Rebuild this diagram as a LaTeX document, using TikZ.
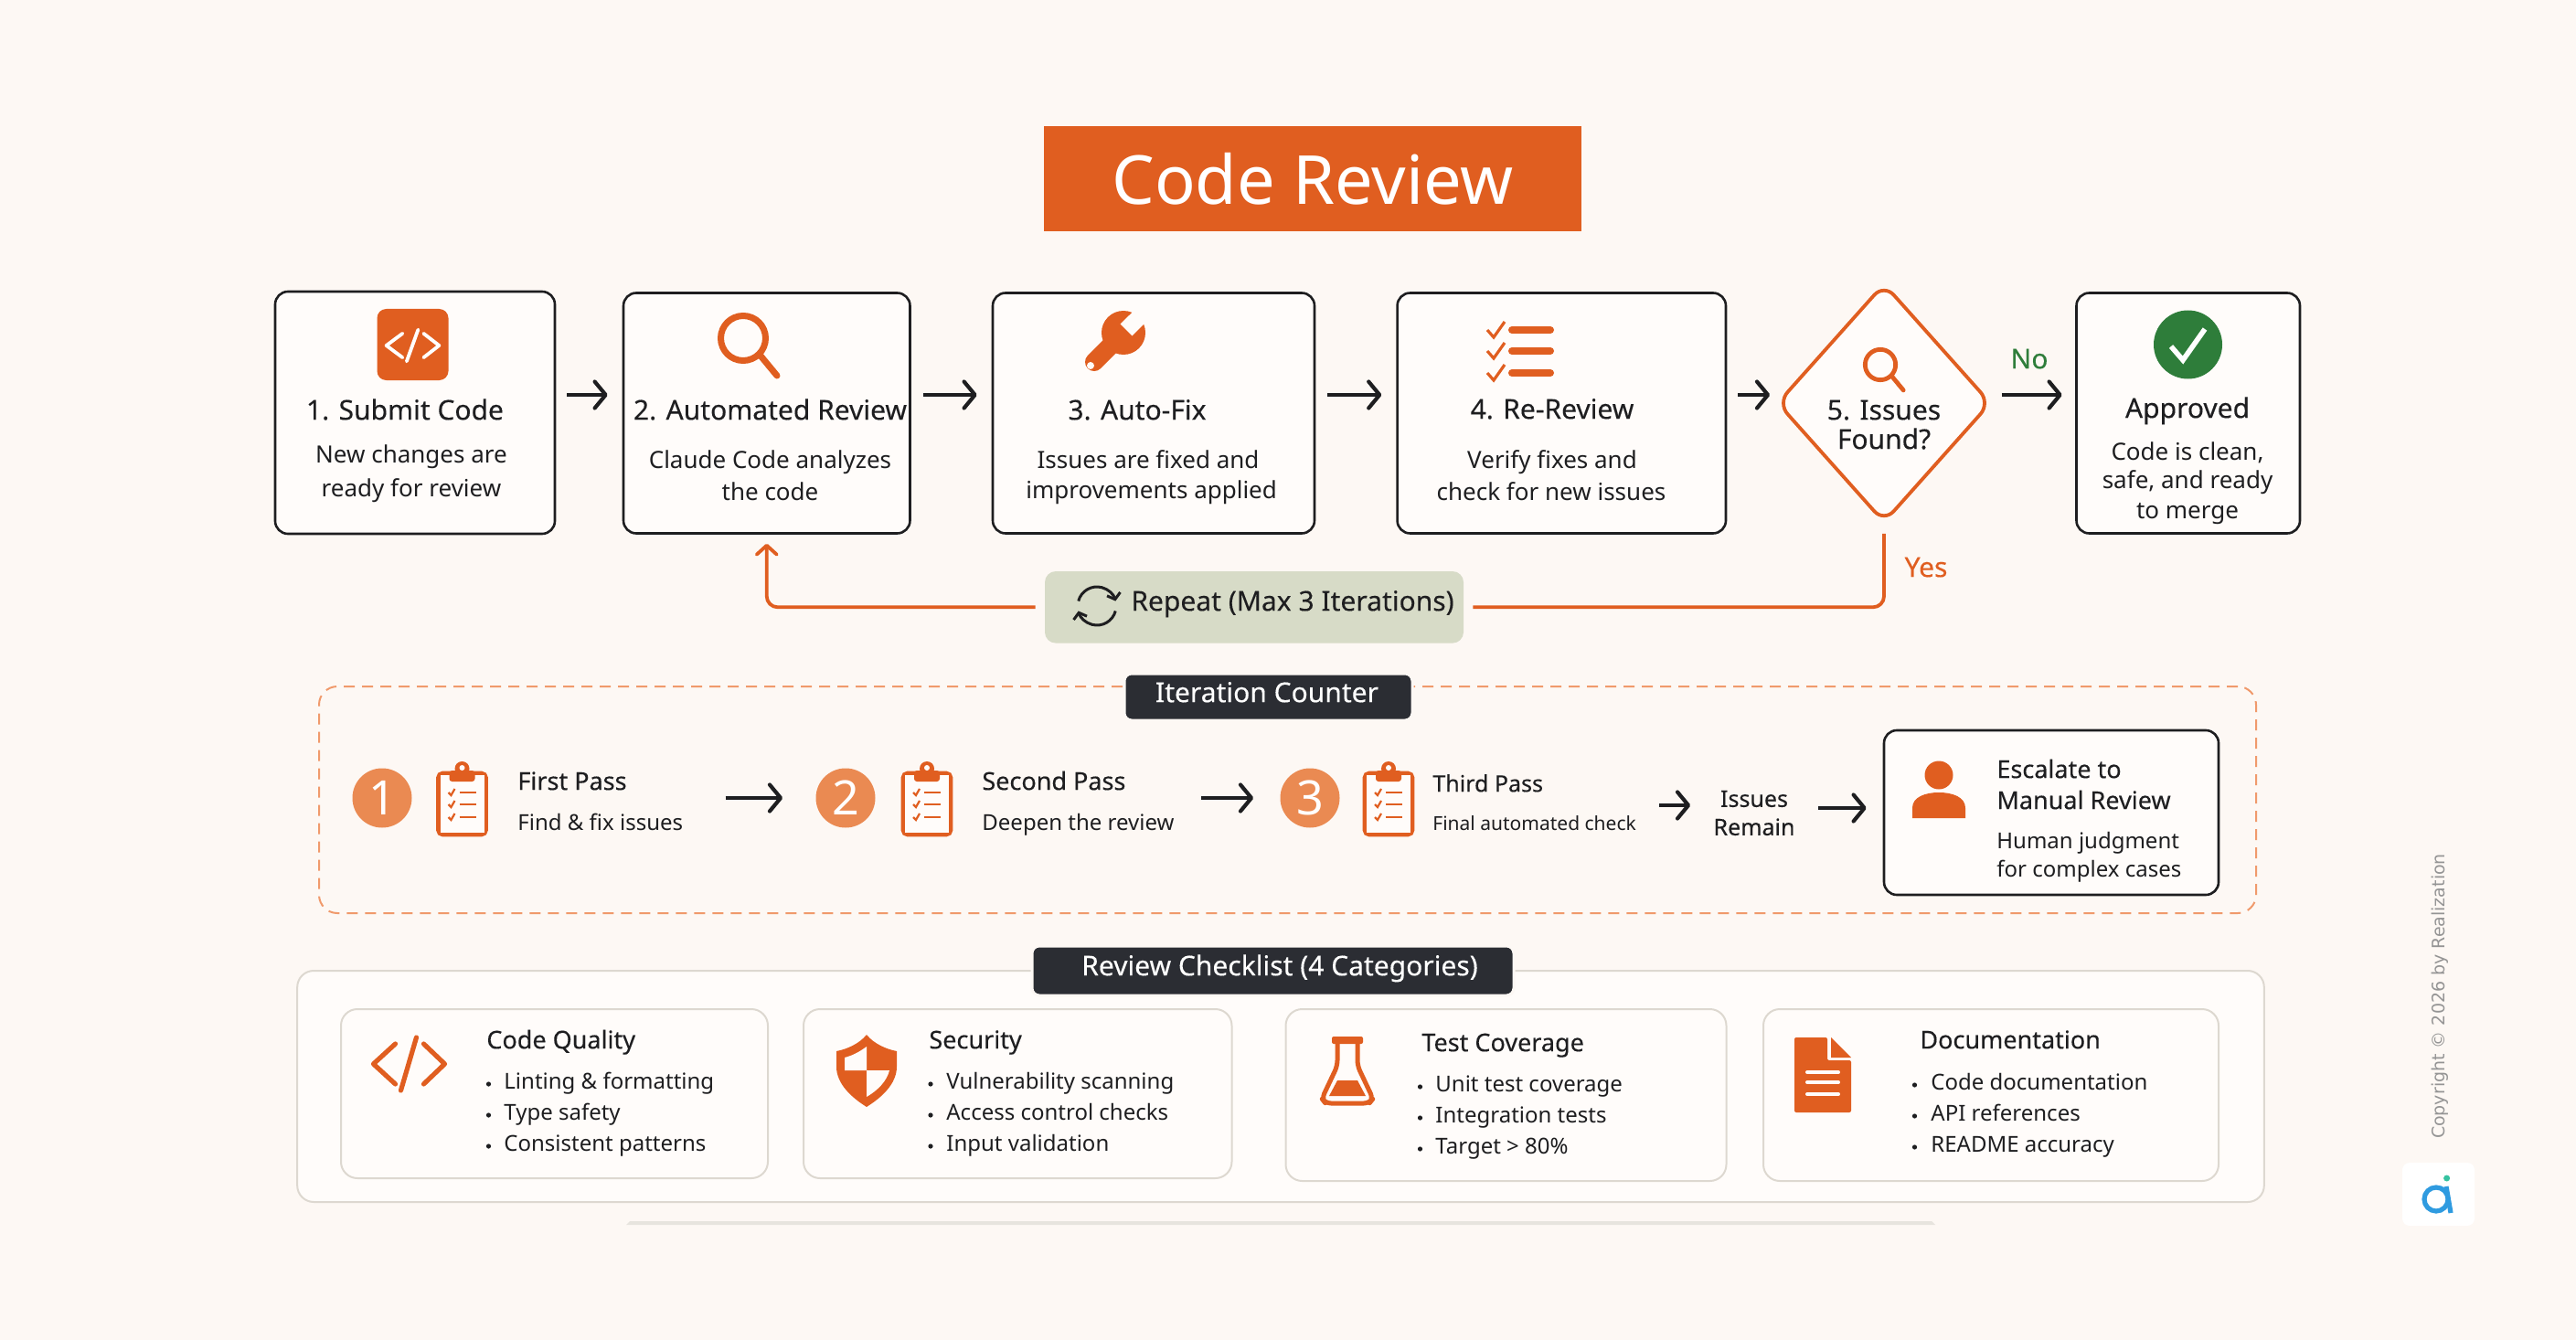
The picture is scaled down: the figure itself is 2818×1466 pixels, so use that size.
\documentclass[tikz,border=0pt]{standalone}
\usepackage{fontspec}
\setmainfont{Noto Sans}
\newfontfamily\medfont[FakeBold=0.25]{Noto Sans}
\newfontfamily\wideface{DejaVu Sans}
\usetikzlibrary{positioning,shapes.geometric,arrows.meta}

\definecolor{pagebg}{HTML}{FDF8F4}
\definecolor{cardfill}{HTML}{FFFCFA}
\definecolor{inkline}{HTML}{1E1E20}
\definecolor{codeorange}{HTML}{E05E20}
\definecolor{softorange}{HTML}{EA8A52}
\definecolor{dashorange}{HTML}{F09A6C}
\definecolor{darkbadge}{HTML}{2B2D33}
\definecolor{palegreen}{HTML}{D7DBC7}
\definecolor{okgreen}{HTML}{2E7D3A}
\definecolor{softline}{HTML}{DDD8D0}
\definecolor{logoblue}{HTML}{2F9BE0}
\definecolor{logoteal}{HTML}{35C2A0}

\tikzset{
  magnifier/.pic={
    \draw (0,0) circle [radius=24.5];
    \draw [line cap=round] (18,18) -- (37,41);
  },
  codeglyph/.pic={
    \draw [line cap=round,line join=round] (-15,-22) -- (-39,0) -- (-15,22);
    \draw [line cap=round,line join=round] (16,-22) -- (39,0) -- (16,22);
    \draw [line cap=round] (8,-29) -- (-9,29);
  },
  tickbar/.pic={
    \draw [codeorange,line width=1.6pt,line join=miter] (-7,0) -- (0,8) -- (12,-9);
    \draw [codeorange,line width=4pt,line cap=round] (20,0) -- (62,0);
  },
  clipboard/.pic={
    \draw [codeorange,line width=2.4pt,rounded corners=2.5pt] (-26,-27) rectangle (26,40);
    \fill [cardfill] (-24,-25) rectangle (24,38);
    \fill [codeorange,rounded corners=1.5pt] (-14,-30) rectangle (14,-18);
    \fill [codeorange] (0,-32) circle [radius=8];
    \fill [cardfill] (0,-33) circle [radius=3];
    \foreach \y in {-6,7,21} {
      \draw [codeorange,line width=1.1pt] (-15,\y) -- (-12,\y+3) -- (-8,\y-4);
      \draw [codeorange,line width=1.4pt] (-3,\y) -- (15,\y);
    }
  },
  wrench/.pic={
    \fill [codeorange] (0,0) circle [radius=24];
    \draw [codeorange,line width=10pt,line cap=round] (0,0) -- (-32,32);
    \fill [cardfill] (9.4,3.4) -- (34,-21.3) -- (21.3,-34) -- (-3.4,-9.4) -- cycle;
    \fill [cardfill] (-36,36) circle [radius=4];
  },
  person/.pic={
    \fill [codeorange] (0,0) circle [radius=15.5];
    \fill [codeorange] (-29,47) -- (-29,36) .. controls (-29,24) and (-15,19) .. (0,19)
      .. controls (15,19) and (29,24) .. (29,36) -- (29,47) -- cycle;
  },
  shield/.pic={
    \fill [codeorange] (0,-39) .. controls (-8,-29) and (-22,-23) .. (-33,-21) -- (-33,-4)
      .. controls (-33,15) and (-16,30) .. (0,40) .. controls (16,30) and (33,15) .. (33,-4)
      -- (33,-21) .. controls (22,-23) and (8,-29) .. (0,-39) -- cycle;
    \fill [cardfill] (0,-26) .. controls (-8,-20) and (-16,-16) .. (-24,-14) -- (-24,0) -- (0,0) -- cycle;
    \fill [cardfill] (0,0) -- (25,0) .. controls (22,12) and (12,22) .. (0,29) -- cycle;
  },
  flask/.pic={
    \fill [codeorange,rounded corners=1pt] (-17,-38) rectangle (17,-30);
    \draw [codeorange,line width=2.5pt,line join=round,rounded corners=3pt]
      (-11,-31) -- (-11,-6) -- (-28,30) -- (-24,35) -- (24,35) -- (28,30) -- (11,-6) -- (11,-31);
    \fill [codeorange] (-11,10) -- (11,10) -- (20,27) -- (-20,27) -- cycle;
  },
  docsheet/.pic={
    \fill [codeorange,rounded corners=1pt] (-31,-41) -- (5,-41) -- (5,-16) -- (31,-16) -- (31,41) -- (-31,41) -- cycle;
    \fill [codeorange] (9,-41) -- (31,-19) -- (9,-19) -- cycle;
    \foreach \y in {-3,8,21}
      \draw [cardfill,line width=2pt,line cap=round] (-17,\y) -- (17,\y);
  }
}

\begin{document}
\begin{tikzpicture}[
    x=0.5pt,y=-0.5pt,
    sized/.style 2 args={minimum width=#1*0.5pt,minimum height=#2*0.5pt},
    stepbox/.style={draw=inkline,fill=cardfill,line width=1.3pt,rounded corners=7pt,inner sep=0pt},
    softbox/.style={draw=softline,fill=cardfill,line width=1pt,rounded corners=9pt,inner sep=0pt},
    badge/.style={fill=darkbadge,draw=pagebg,line width=1.5pt,rounded corners=4pt,inner sep=0pt},
    flowarrow/.style={draw=inkline,line width=2.1pt,-{Straight Barb[length=6pt,width=14.5pt,round]}},
    looparrow/.style={draw=codeorange,line width=1.9pt,rounded corners=6pt},
    linetext/.style={inner sep=0pt,text height=.72em,text depth=.2em},
    headtext/.style={linetext,text=inkline,font=\medfont\fontsize{15}{18}\selectfont},
    bodytext/.style={linetext,text=inkline,font=\fontsize{13}{16}\selectfont},
    itemtext/.style={linetext,anchor=west,text=inkline,font=\fontsize{12}{15}\selectfont},
    bulletdot/.style={circle,fill=inkline,inner sep=0pt,minimum size=2.6pt},
    passcircle/.style={circle,fill=softorange,text=white,inner sep=0pt,minimum size=32.5pt,font=\bfseries\fontsize{26}{28}\selectfont}
    ]

    \useasboundingbox [fill=pagebg] (0,0) rectangle (2818,1466);

    % title:
    \node (title) at (1436,195.5) [fill=codeorange,sized={588}{115},text=white,inner sep=0pt,font=\bfseries\fontsize{37}{40}\selectfont] {Code Review};

    % top row boxes:
    \node (submit) at (454,451.5) [stepbox,sized={306}{265}] {};
    \foreach \name/\x/\w in {review/838.75/313.5,autofix/1262/352,rereview/1708.3/359.4,approved/2393.75/244.5}
      \node (\name) at (\x,452) [stepbox,sized={\w}{263}] {};
    \node (issues) at (2061,441) [diamond,draw=codeorange,fill=cardfill,line width=1.9pt,rounded corners=8pt,inner sep=0pt,sized={234}{262}] {};

    % top row text:
    \foreach \n/\x/\y/\t in {
      a/443/454/1. Submit Code,b/842.5/454/2. Automated Review,c/1244/454/3. Auto-Fix,
      d/1698/453/4. Re-Review,e/2061/454/5. Issues,f/2061/486/Found?,g/2393/452/Approved}
      \node (head\n) at (\x,\y) [headtext] {\t};
    \foreach \n/\x/\y/\t in {
      a/450/501.5/New changes are,b/450/538/ready for review,
      c/842.5/507/Claude Code analyzes,d/842.5/542/the code,
      e/1256/507/Issues are fixed and,f/1259.6/540/improvements applied,
      g/1698/507.7/Verify fixes and,h/1697/542/check for new issues,
      i/2393/498/{Code is clean,},j/2393/529/{safe, and ready},k/2393/562/to merge}
      \node (body\n) at (\x,\y) [bodytext] {\t};

    % top row icons:
    \node (codetile) at (451.5,377) [fill=codeorange,rounded corners=5pt,inner sep=0pt,sized={78}{78}] {};
    \pic [white,line width=1.9pt,xscale=.74,yscale=.6] at (451.5,378) {codeglyph};
    \pic [codeorange,line width=3.5pt] at (813,370) {magnifier};
    \pic at (1229,364) {wrench};
    \foreach \y in {361,384,408}
      \pic at (1634,\y) {tickbar};
    \pic [codeorange,line width=2.4pt,scale=.68] at (2057,399) {magnifier};
    \node (okmark) at (2393.5,377) [circle,fill=okgreen,inner sep=0pt,minimum size=37.5pt] {};
    \draw [white,line width=2.8pt] (2375,379) -- (2388,394) -- (2412,360);

    % top row arrows:
    \coordinate (flowrow) at (0,432);
    \foreach \a/\b/\s/\e in {submit/review/6/8,review/autofix/6.5/8,autofix/rereview/6.5/8,rereview/issues/6/3,issues/approved/5/7.25}
      \draw [flowarrow,shorten <=\s pt,shorten >=\e pt] (\a.east |- flowrow) -- (\b.west |- flowrow);

    \node (nolabel) at (2220,398) [headtext,text=okgreen] {No};
    \node (yeslabel) at (2107,626) [headtext,text=codeorange] {Yes};

    % repeat loop:
    \node (repeat) at (1372,664.3) [fill=palegreen,rounded corners=6pt,inner sep=0pt,sized={458}{78.6}] {};
    \node (repeatlabel) at (1414,663) [headtext] {Repeat (Max 3 Iterations)};
    \draw [inkline,line width=1.5pt,-{Straight Barb[length=3pt,width=7.5pt]}] (1200,663) ++(165:10.5pt) arc [start angle=165,end angle=15,radius=10.5pt];
    \draw [inkline,line width=1.5pt,-{Straight Barb[length=3pt,width=7.5pt]}] (1200,663) ++(-15:10.5pt) arc [start angle=-15,end angle=-165,radius=10.5pt];
    \draw [looparrow,shorten <=5pt,shorten >=5pt] (issues.south) |- (repeat.east);
    \draw [looparrow,-{Straight Barb[length=5pt,width=11pt,round]},shorten <=5pt,shorten >=5pt] (repeat.west) -| (review.south);

    % iteration counter:
    \node (counterframe) at (1408.5,875) [draw=dashorange,line width=1pt,dash pattern=on 6pt off 4pt,rounded corners=10pt,inner sep=0pt,sized={2119}{248}] {};
    \node (counterbadge) at (1387.5,762.5) [badge,sized={315}{51}] {};
    \node (counterlabel) at (1386,763) [headtext,text=white] {Iteration Counter};

    \foreach \i/\x/\b in {1/418/505.5,2/925/1014,3/1433/1519} {
      \node (pass\i) at (\x,873) [passcircle] {\i};
      \pic at (\b,873) {clipboard};
    }

    \node (firsttext) at (566,859) [linetext,anchor=west,text=inkline,font=\medfont\fontsize{13.5}{16}\selectfont] {First Pass};
    \node (secondtext) at (1074,859) [linetext,anchor=west,text=inkline,font=\medfont\fontsize{13.5}{16}\selectfont] {Second Pass};
    \node (thirdtext) at (1567,861) [linetext,anchor=west,text=inkline,font=\medfont\fontsize{12.5}{16}\selectfont] {Third Pass};
    \node (findtext) at (566,903) [itemtext] {Find \& fix issues};
    \node (deepentext) at (1074,903) [itemtext] {Deepen the review};
    \node (finaltext) at (1567,903) [itemtext,font=\fontsize{10.5}{13}\selectfont] {Final automated check};
    \node (remain) at (1919,889.5) [align=center,inner sep=0pt,text=inkline,font=\medfont\fontsize{12.5}{15.5}\selectfont] {Issues\\Remain};
    \node (escalate) at (2244,889) [stepbox,sized={366}{180}] {};

    \pic at (2121,848) {person};
    \node (escalatea) at (2184,846) [linetext,anchor=west,text=inkline,font=\medfont\fontsize{13.5}{16}\selectfont] {Escalate to};
    \node (escalateb) at (2184,880) [linetext,anchor=west,text=inkline,font=\medfont\fontsize{13.5}{16}\selectfont] {Manual Review};
    \node (escalatec) at (2184,923) [itemtext] {Human judgment};
    \node (escalated) at (2184,954) [itemtext] {for complex cases};

    \coordinate (thirdrow) at (0,881);
    \coordinate (fourthrow) at (0,884);
    \draw [flowarrow,shorten <=23pt,shorten >=18pt] (findtext.east |- pass2.west) -- (pass2.west);
    \draw [flowarrow,shorten <=14.5pt,shorten >=14.5pt] (deepentext.east |- pass3.west) -- (pass3.west);
    \draw [flowarrow,shorten <=12.5pt,shorten >=12.5pt] (finaltext.east |- thirdrow) -- (remain.west |- thirdrow);
    \draw [flowarrow,shorten <=12.5pt,shorten >=9pt] (remain.east |- fourthrow) -- (escalate.west |- fourthrow);

    % review checklist:
    \node (checkframe) at (1401,1188.5) [softbox,sized={2151.6}{253}] {};
    \node (checkbadge) at (1392.5,1062) [badge,sized={527}{54}] {};
    \node (checklabel) at (1400,1062) [headtext,text=white] {Review Checklist (4 Categories)};

    \foreach \name/\x/\y/\w/\h in {quality/606.5/1196.5/467/185,security/1113.25/1196.5/468.5/185,coverage/1647.5/1198/482/188,docs/2178/1198/498/188}
      \node (\name) at (\x,\y) [softbox,sized={\w}{\h}] {};

    \node (qualityhead) at (532,1142) [headtext,anchor=west,font=\medfont\fontsize{13.5}{16}\selectfont] {Code Quality};
    \node (securityhead) at (1016,1142) [headtext,anchor=west,font=\medfont\fontsize{13.5}{16}\selectfont] {Security};
    \node (coveragehead) at (1555,1145) [headtext,anchor=west,font=\medfont\fontsize{13.5}{16}\selectfont] {Test Coverage};
    \node (docshead) at (2100,1142) [headtext,anchor=west,font=\medfont\fontsize{13.5}{16}\selectfont] {Documentation};

    \foreach \i/\y/\t in {1/1186/Linting \& formatting,2/1220/Type safety,3/1254/Consistent patterns} {
      \node (qdot\i) at (534.5,\y) [bulletdot] {};
      \node (qitem\i) at (551,\y) [itemtext] {\t};
    }
    \foreach \i/\y/\t in {1/1186/Vulnerability scanning,2/1220/Access control checks,3/1254/Input validation} {
      \node (sdot\i) at (1018,\y) [bulletdot] {};
      \node (sitem\i) at (1035,\y) [itemtext] {\t};
    }
    \foreach \i/\y/\t in {1/1189/Unit test coverage,2/1223/Integration tests,3/1257/Target > 80\%} {
      \node (cdot\i) at (1553.5,\y) [bulletdot] {};
      \node (citem\i) at (1570,\y) [itemtext] {\t};
    }
    \foreach \i/\y/\t in {1/1187/Code documentation,2/1221/API references,3/1255/README accuracy} {
      \node (ddot\i) at (2094.5,\y) [bulletdot] {};
      \node (ditem\i) at (2112,\y) [itemtext] {\t};
    }

    \pic [codeorange,line width=2.6pt] at (447.5,1164) {codeglyph};
    \pic at (948,1171) {shield};
    \pic at (1474,1172) {flask};
    \pic at (1994,1176) {docsheet};

    % cut off strip below the checklist:
    \fill [softline!70] (685,1340) -- (689,1336) -- (2113,1336) -- (2117,1340) -- cycle;

    % copyright and logo:
    \node (copyright) at (2669,1090) [rotate=90,inner sep=0pt,text=black!42,font=\wideface\fontsize{9.5}{11}\selectfont] {Copyright © 2026 by Realization};
    \node (logotile) at (2667.5,1306.5) [fill=white,rounded corners=4pt,inner sep=0pt,sized={79}{69}] {};
    \draw [logoblue,line width=2.6pt] (2665,1312) circle [radius=13];
    \draw [logoblue,line width=2.6pt] (2676,1298) -- (2681,1327);
    \fill [logoteal] (2676.6,1289) circle [radius=3.5];

  \end{tikzpicture}
\end{document}
